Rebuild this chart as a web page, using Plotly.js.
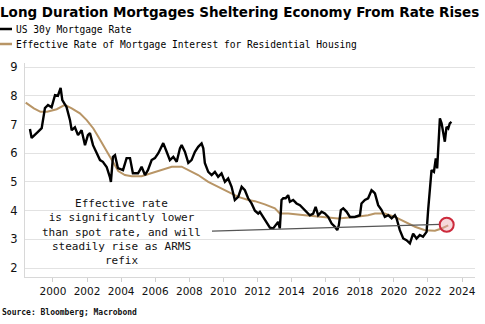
<!DOCTYPE html>
<html>
<head>
<meta charset="utf-8">
<script src="https://cdn.plot.ly/plotly-3.0.1.min.js"></script>
<style>html,body{margin:0;padding:0;background:#fff;}#chart{width:485px;height:324px;}</style>
</head>
<body>
<div id="chart"></div>
<script>
// US 30y Mortgage Rate (decimal year, %)
var mortYears = [1998.65,1998.75,1999.12,1999.34,1999.53,1999.71,1999.92,2000.12,2000.29,2000.45,2000.55,2000.80,2001.00,2001.10,2001.29,2001.47,2001.68,2001.88,2002.05,2002.17,2002.35,2002.56,2002.76,2002.93,2003.15,2003.34,2003.40,2003.52,2003.64,2003.81,2004.11,2004.32,2004.52,2004.69,2004.99,2005.10,2005.20,2005.40,2005.57,2005.79,2005.98,2006.18,2006.38,2006.47,2006.67,2006.86,2007.06,2007.26,2007.45,2007.55,2007.74,2007.94,2008.13,2008.33,2008.52,2008.72,2008.82,2008.91,2009.11,2009.31,2009.50,2009.69,2009.89,2010.09,2010.28,2010.48,2010.67,2010.87,2011.07,2011.26,2011.45,2011.65,2011.85,2012.04,2012.14,2012.33,2012.53,2012.73,2012.92,2013.06,2013.21,2013.31,2013.41,2013.51,2013.65,2013.80,2013.90,2014.09,2014.29,2014.49,2014.68,2014.88,2015.07,2015.27,2015.41,2015.56,2015.76,2015.95,2016.15,2016.35,2016.54,2016.68,2016.77,2016.89,2017.03,2017.23,2017.42,2017.71,2018.01,2018.10,2018.30,2018.49,2018.69,2018.79,2018.89,2019.08,2019.28,2019.47,2019.67,2019.87,2020.06,2020.16,2020.35,2020.55,2020.74,2020.94,2021.13,2021.33,2021.52,2021.71,2021.92,2022.01,2022.15,2022.21,2022.35,2022.46,2022.54,2022.60,2022.70,2022.80,2022.89,2022.99,2023.09,2023.19,2023.28,2023.38];
var mortRate = [6.84,6.53,6.74,6.87,7.57,7.68,7.60,8.02,8.00,8.27,7.85,7.60,7.15,6.80,6.90,6.63,6.80,6.28,6.63,6.70,6.28,6.00,5.76,5.70,5.52,5.17,5.00,5.87,5.93,5.48,5.41,5.83,5.83,5.30,5.30,5.41,5.53,5.24,5.41,5.76,5.83,6.00,6.22,6.35,6.05,5.76,5.87,5.70,6.17,6.28,6.05,5.66,5.76,6.05,6.22,6.34,6.17,5.66,5.35,5.24,5.35,5.18,5.30,5.00,5.12,4.83,4.37,4.48,4.83,4.71,4.43,4.25,4.00,3.90,3.96,3.78,3.61,3.41,3.38,3.49,3.61,3.38,4.37,4.43,4.43,4.54,4.31,4.37,4.25,4.19,4.08,3.96,3.84,3.90,4.13,3.84,3.96,3.90,3.78,3.55,3.44,3.32,3.49,4.02,4.08,3.96,3.78,3.78,3.84,4.25,4.37,4.43,4.71,4.66,4.60,4.19,4.02,3.78,3.84,3.73,3.84,3.73,3.32,3.03,2.97,2.86,3.20,3.03,3.15,3.09,3.26,4.02,4.83,5.41,5.35,5.82,5.47,6.34,7.21,7.04,6.69,6.40,6.92,6.86,7.04,7.09];

// Effective Rate of Mortgage Interest for Residential Housing
var effYears = [1998.40,1998.88,1999.27,1999.66,2000.22,2000.70,2001.10,2001.58,2001.98,2002.37,2002.66,2002.95,2003.25,2003.54,2003.83,2004.22,2004.62,2005.20,2005.60,2006.38,2006.97,2007.55,2007.94,2008.52,2009.11,2009.70,2010.28,2010.87,2011.46,2011.85,2012.43,2013.02,2013.31,2013.80,2014.78,2015.76,2016.73,2017.71,2018.49,2018.89,2019.47,2020.06,2020.65,2021.24,2021.82,2022.41,2022.80,2023.19];
var effRate = [7.76,7.56,7.44,7.44,7.53,7.68,7.56,7.39,7.15,6.86,6.57,6.28,5.99,5.65,5.38,5.24,5.20,5.20,5.28,5.41,5.53,5.53,5.41,5.24,5.00,4.83,4.66,4.48,4.37,4.33,4.22,4.08,3.90,3.90,3.84,3.78,3.73,3.78,3.84,3.90,3.90,3.78,3.61,3.44,3.32,3.30,3.38,3.49];

var xTickVals = [2000,2002,2004,2006,2008,2010,2012,2014,2016,2018,2020,2022,2024];
var xTickText = ["2000","2002","2004","2006","2008","2010","2012","2014","2016","2018","2020","2022","2024"];
var yTickVals = [2,3,4,5,6,7,8,9];

var titleText = "Long Duration Mortgages Sheltering Economy From Rate Rises";
var seriesNames = ["US 30y Mortgage Rate", "Effective Rate of Mortgage Interest for Residential Housing"];
var noteText = "Effective rate<br>is significantly lower<br>than spot rate, and will<br>steadily rise as ARMS<br>refix";
var sourceText = "Source: Bloomberg; Macrobond";
var noteLine = {x: [2009.33, 2022.72], y: [3.29, 3.52]};
var circlePoint = {x: 2023.1, y: 3.51};

var black = "#000000";
var tan = "#b89566";
var mono = "DejaVu Sans Mono, monospace";
var sans = "DejaVu Sans, Verdana, sans-serif";

var traces = [
  {x: effYears, y: effRate, type: "scatter", mode: "lines", name: seriesNames[1],
   line: {color: tan, width: 2}, showlegend: false},
  {x: mortYears, y: mortRate, type: "scatter", mode: "lines", name: seriesNames[0],
   line: {color: black, width: 2.4}, showlegend: false}
];

// paper coordinate helpers (plot area: left 25, top 63, width 450, height 214)
function px(v){ return (v - 25) / 450; }
function py(v){ return (277 - v) / 214; }

var layout = {
  width: 485, height: 324,
  margin: {l: 25, r: 10, t: 63, b: 47},
  paper_bgcolor: "#ffffff", plot_bgcolor: "#ffffff",
  title: {text: "<b>" + titleText + "</b>", x: 0, xref: "container", xanchor: "left",
          y: 1 - 12/324, yref: "container", yanchor: "middle",
          font: {family: sans, size: 13.5, color: "#000"}},
  xaxis: {range: [1998.36, 2024.76], tickvals: xTickVals, ticktext: xTickText,
          showgrid: false, zeroline: false, showline: true, linecolor: "#d8d8d8", linewidth: 1,
          ticks: "outside", ticklen: 4, tickcolor: "#d0d0d0",
          tickfont: {family: sans, size: 10.5, color: "#111"}},
  yaxis: {range: [1.69, 9.14], tickvals: yTickVals,
          showgrid: true, gridcolor: "#e2e2e2", gridwidth: 1, zeroline: false,
          showline: true, linecolor: "#d8d8d8", linewidth: 1, ticks: "",
          ticklabelstandoff: 4,
          tickfont: {family: sans, size: 11.5, color: "#111"}},
  shapes: [
    {type: "line", xref: "x", yref: "y", x0: noteLine.x[0], y0: noteLine.y[0], x1: noteLine.x[1], y1: noteLine.y[1],
     line: {color: "#555", width: 1.2}},
    {type: "circle", xref: "x", yref: "y", xsizemode: "pixel", ysizemode: "pixel",
     xanchor: circlePoint.x, yanchor: circlePoint.y, x0: -7, x1: 7, y0: -7, y1: 7,
     line: {color: "#cc2a3c", width: 2}, fillcolor: "rgba(235,170,175,0.45)"},
    {type: "line", xref: "paper", yref: "paper", x0: px(0), x1: px(12), y0: py(29), y1: py(29),
     line: {color: black, width: 2.5}},
    {type: "line", xref: "paper", yref: "paper", x0: px(0), x1: px(12), y0: py(44), y1: py(44),
     line: {color: tan, width: 2.5}}
  ],
  annotations: [
    {xref: "paper", yref: "paper", x: px(14), y: py(29), xanchor: "left", yanchor: "middle",
     text: seriesNames[0], showarrow: false, font: {family: mono, size: 9.6, color: "#000"}},
    {xref: "paper", yref: "paper", x: px(14), y: py(44), xanchor: "left", yanchor: "middle",
     text: seriesNames[1], showarrow: false, font: {family: mono, size: 9.6, color: "#000"}},
    {xref: "x", yref: "y", x: 2004.05, y: 3.27, xanchor: "center", yanchor: "middle",
     text: noteText, showarrow: false, align: "center", font: {family: mono, size: 11, color: "#111"}},
    {xref: "paper", yref: "paper", x: px(0), y: py(312), xanchor: "left", yanchor: "middle",
     text: "<b>" + sourceText + "</b>", showarrow: false, font: {family: mono, size: 8, color: "#111"}}
  ]
};

Plotly.newPlot("chart", traces, layout, {staticPlot: true, displayModeBar: false});
</script>
</body>
</html>
